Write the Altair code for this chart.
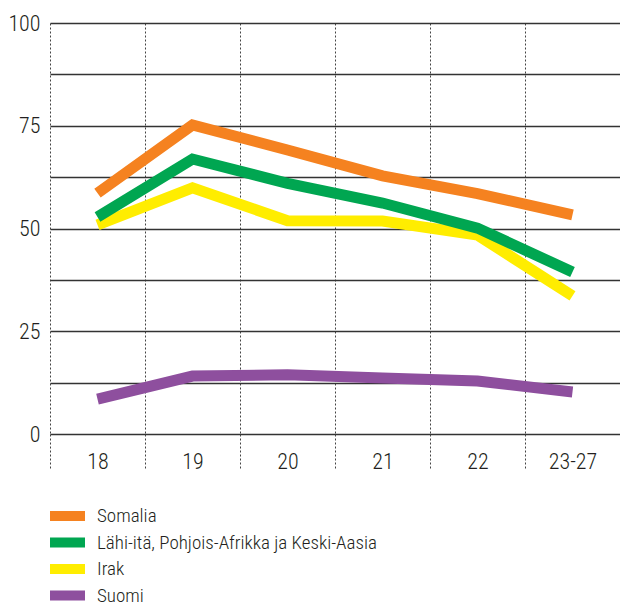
import altair as alt
import pandas as pd

years = ["18", "19", "20", "21", "22", "23-27"]
somalia = [58.6, 75.2, 69.1, 62.8, 58.5, 53.3]
lahi = [52.8, 66.9, 61.0, 56.2, 50.1, 39.4]
irak = [50.9, 59.9, 51.9, 51.8, 48.4, 33.6]
suomi = [8.5, 14.1, 14.4, 13.6, 12.9, 10.2]

series = ["Somalia", "Lähi-itä, Pohjois-Afrikka ja Keski-Aasia", "Irak", "Suomi"]
colors = ["#F58220", "#00A651", "#FFED00", "#8E4F9E"]

# drawing order: Suomi, Irak, Lähi-itä, Somalia (last on top)
draw = [("Suomi", suomi), ("Irak", irak), (series[1], lahi), ("Somalia", somalia)]
rows = []
for name, vals in draw:
    for y, v in zip(years, vals):
        rows.append({"year": y, "value": v, "series": name})
df = pd.DataFrame(rows)
legend_df = pd.DataFrame({"series": series, "idx": list(range(len(series)))})

FONT = "Roboto Condensed, Liberation Sans Narrow, Arial Narrow, Roboto"
TXT = "#231F20"
grid_vals = [0, 12.5, 25, 37.5, 50, 62.5, 75, 87.5, 100]
color = alt.Color("series:N", scale=alt.Scale(domain=series, range=colors), legend=None)

lines = alt.Chart(df).mark_line(
    strokeWidth=11, strokeCap="butt", strokeJoin="miter"
).encode(
    x=alt.X(
        "year:N",
        sort=years,
        scale=alt.Scale(type="band", paddingInner=0, paddingOuter=0),
        axis=alt.Axis(
            title=None, labelAngle=0, domain=False,
            grid=True, gridDash=[2, 2], gridColor="#444", gridWidth=1,
            tickBand="extent", ticks=True, tickSize=36, tickDash=[2, 2],
            tickColor="#444", tickWidth=1,
            labelFont=FONT, labelFontSize=22, labelFontWeight=300, labelColor=TXT,
            labelPadding=-9, labelBaseline="middle",
        ),
    ),
    y=alt.Y(
        "value:Q",
        scale=alt.Scale(domain=[0, 100], nice=False),
        axis=alt.Axis(
            title=None, values=grid_vals,
            labelExpr="datum.value % 25 == 0 ? datum.label : ''",
            domain=False, ticks=False, grid=True,
            gridColor="#333", gridWidth=1.3,
            labelFont=FONT, labelFontSize=22, labelFontWeight=300, labelColor=TXT,
            labelPadding=10,
        ),
    ),
    color=color,
)

leg_base = alt.Chart(legend_df).transform_calculate(
    ly="493 + 26.5 * datum.idx"
)
leg_sym = leg_base.mark_rule(strokeWidth=10, strokeCap="butt").encode(
    x=alt.value(0), x2=alt.value(35),
    y=alt.Y("ly:Q", scale=None, axis=None),
    color=color,
)
leg_txt = leg_base.mark_text(
    align="left", baseline="middle", font=FONT, fontSize=19, fontWeight=300, color=TXT
).encode(
    x=alt.value(47),
    y=alt.Y("ly:Q", scale=None, axis=None),
    text="series:N",
)

chart = alt.layer(lines, leg_sym, leg_txt).properties(
    width=570, height=411,
    padding={"left": 42, "top": 15, "right": 0, "bottom": 172},
    autosize=alt.AutoSizeParams(type="none"),
).configure_view(stroke=None)

chart.save("out.html", embed_options={"renderer": "svg", "actions": False})
